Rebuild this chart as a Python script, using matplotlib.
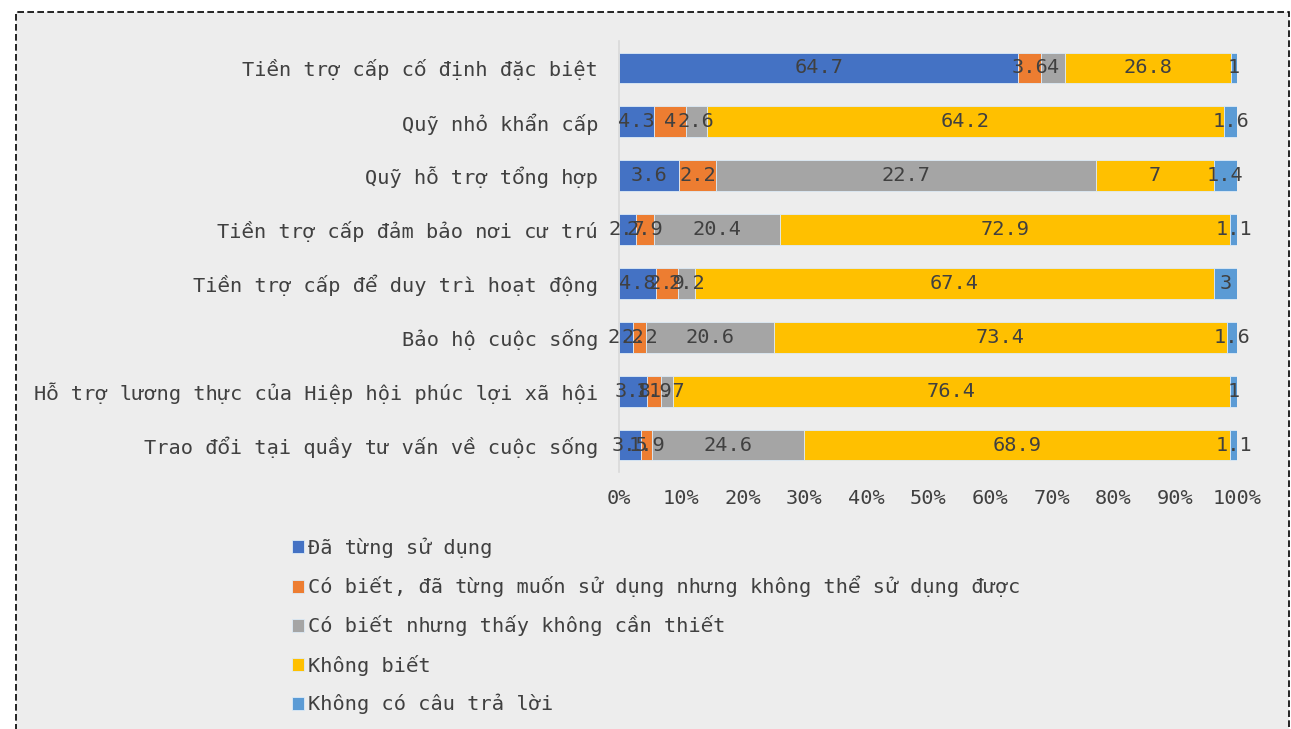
import numpy as np
import matplotlib.pyplot as plt
from matplotlib.patches import Rectangle

categories = [
    "Tiền trợ cấp cố định đặc biệt",
    "Quỹ nhỏ khẩn cấp",
    "Quỹ hỗ trợ tổng hợp",
    "Tiền trợ cấp đảm bảo nơi cư trú",
    "Tiền trợ cấp để duy trì hoạt động",
    "Bảo hộ cuộc sống",
    "Hỗ trợ lương thực của Hiệp hội phúc lợi xã hội",
    "Trao đổi tại quầy tư vấn về cuộc sống",
]

series_names = [
    "Đã từng sử dụng",
    "Có biết, đã từng muốn sử dụng nhưng không thể sử dụng được",
    "Có biết nhưng thấy không cần thiết",
    "Không biết",
    "Không có câu trả lời",
]

used = [64.7, 4.3, 3.6, 2.7, 4.8, 2.2, 3.8, 3.5]
wanted_but_couldnt = [3.6, 4, 2.2, 2.9, 2.9, 2.2, 1.9, 1.9]
not_needed = [4, 2.6, 22.7, 20.4, 2.2, 20.6, 1.7, 24.6]
not_known = [26.8, 64.2, 7, 72.9, 67.4, 73.4, 76.4, 68.9]
no_answer = [1, 1.6, 1.4, 1.1, 3, 1.6, 1, 1.1]

colors = ["#4472C4", "#ED7D31", "#A5A5A5", "#FFC000", "#5B9BD5"]

plt.rcParams['font.family'] = ['DejaVu Sans Mono', 'DejaVu Sans']
text_color = "#404040"
fs = 14.6

data = np.array([used, wanted_but_couldnt, not_needed, not_known, no_answer])
share = data / data.sum(axis=0) * 100

fig = plt.figure(figsize=(12.91, 7.29), dpi=100)
fig.patch.set_facecolor("white")

# gray panel with dashed border
fig.patches.append(Rectangle((16 / 1291, -0.02), 1273 / 1291, 1 - 12 / 729 + 0.02,
                             transform=fig.transFigure, facecolor="#EDEDED",
                             edgecolor="black", linestyle=(0, (4, 2)), linewidth=1.2,
                             zorder=-10))

ax = fig.add_axes([619 / 1291, 1 - 472 / 729, 618 / 1291, 431 / 729])
ax.set_facecolor("none")
ax.set_zorder(5)

y = np.arange(len(categories))
left = np.zeros(len(categories))
for i in range(len(series_names)):
    bars = ax.barh(y, share[i], left=left, height=0.57, color=colors[i],
                   edgecolor="#DDEBF7", linewidth=0.6, label=series_names[i])
    ax.bar_label(bars, labels=[f"{v:g}" for v in data[i]], label_type="center",
                 fontsize=fs, color=text_color)
    left += share[i]

ax.set_xlim(0, 100)
ax.set_ylim(len(categories) - 0.5, -0.5)
ax.set_yticks(y)
ax.set_yticklabels(categories, fontsize=fs, color=text_color)
ax.set_xticks(np.arange(0, 101, 10))
ax.set_xticklabels([f"{t}%" for t in range(0, 101, 10)], fontsize=fs, color=text_color)
ax.tick_params(axis="y", length=0, pad=15)
ax.tick_params(axis="x", length=0, pad=12)
for s in ["top", "right", "bottom"]:
    ax.spines[s].set_visible(False)
ax.spines["left"].set_color("#D9D9D9")
ax.spines["left"].set_linewidth(1.2)

leg = fig.legend(loc="upper left", bbox_to_anchor=(292 / 1291, 1 - 537 / 729),
                 frameon=False, fontsize=fs, labelcolor=text_color,
                 handlelength=0.6, handleheight=0.6, handletextpad=0.2,
                 labelspacing=0.9, borderaxespad=0, borderpad=0)

plt.savefig("out.png", dpi=100)
